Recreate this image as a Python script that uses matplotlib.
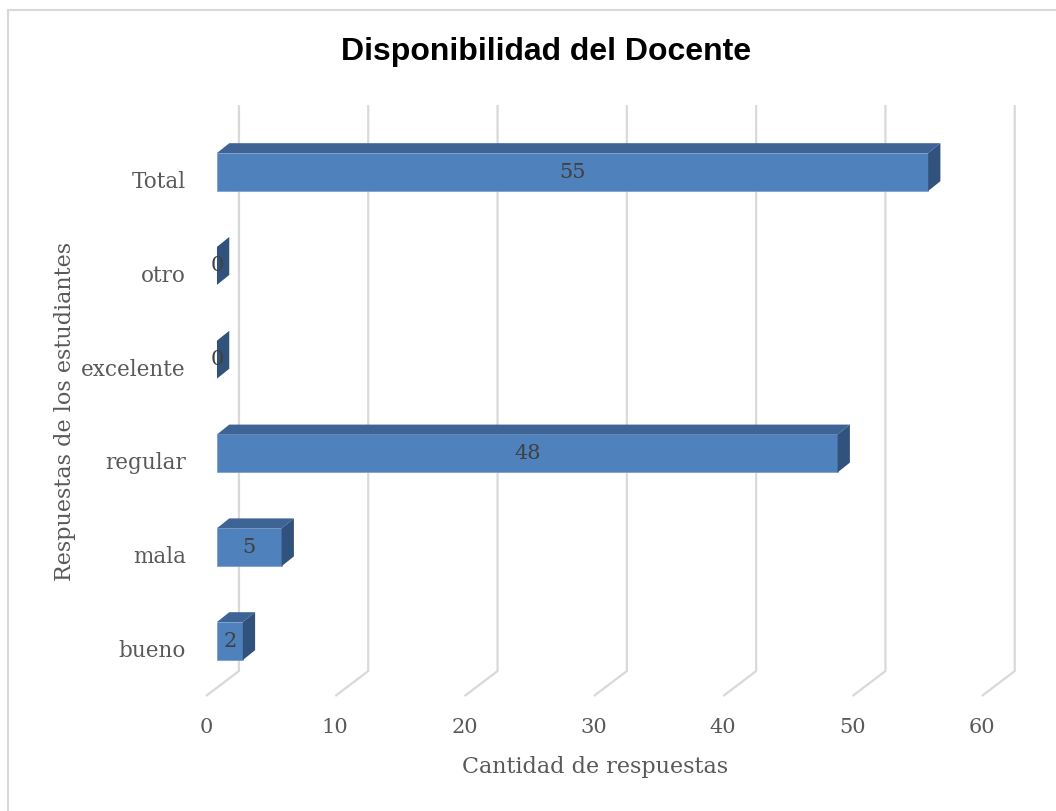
import matplotlib
matplotlib.use("Agg")
import matplotlib.pyplot as plt
from matplotlib.patches import Polygon, Rectangle

# datos
categorias = ['bueno', 'mala', 'regular', 'excelente', 'otro', 'Total']
valores = [2, 5, 48, 0, 0, 55]
xticks = [0, 10, 20, 30, 40, 50, 60]

titulo = "Disponibilidad del Docente"
xlabel = "Cantidad de respuestas"
ylabel = "Respuestas de los estudiantes"

# colores estilo Excel
c_frente = '#4F81BD'
c_arriba = '#3E6496'
c_lado = '#32527E'
c_grid = '#D9D9D9'
c_texto = '#595959'

serif = ['DejaVu Serif']

fig = plt.figure(figsize=(10.56, 8.11), dpi=100)
ax = fig.add_axes([0, 0, 1, 1])
ax.set_xlim(-16.78, 64.89)
ax.set_ylim(-1.812, 6.834)
ax.axis('off')

# borde del grafico
fig.patches.append(Rectangle((8 / 1056, -0.2), 1.2, 1.2 - 10 / 811, transform=fig.transFigure,
                             facecolor='none', edgecolor=c_grid, lw=1.5))

# profundidad 3D
dx, dy = 0.95, 0.105
h = 0.405
gx_back, gx_front = 1.70, -0.85
y_top, y_back, y_front = 5.714, -0.32, -0.586

# lineas de cuadricula (pared + piso)
for t in xticks:
    ax.plot([t + gx_back, t + gx_back, t + gx_front], [y_top, y_back, y_front],
            color=c_grid, lw=1.6, zorder=1, solid_capstyle='butt')
    ax.text(t + gx_front, -0.917, str(t), ha='center', va='center',
            fontsize=15, color=c_texto, family=serif)

# barras
for i, (cat, v) in enumerate(zip(categorias, valores)):
    y0, y1 = i - h / 2, i + h / 2
    if v > 0:
        ax.add_patch(Rectangle((0, y0), v, h, facecolor=c_frente,
                               edgecolor='#7FA1CF', lw=0.6, zorder=3))
        ax.add_patch(Polygon([(0, y1), (v, y1), (v + dx, y1 + dy), (dx, y1 + dy)],
                             closed=True, facecolor=c_arriba, edgecolor='none', zorder=3))
    ax.add_patch(Polygon([(v, y0), (v, y1), (v + dx, y1 + dy), (v + dx, y0 + dy)],
                         closed=True, facecolor=c_lado, edgecolor='none', zorder=3))
    ax.text(v / 2, i, str(v), ha='center', va='center', fontsize=15,
            color='#404040', family=serif, zorder=4)
    ax.text(-2.4, i - 0.107, cat, ha='right', va='center', fontsize=15.5,
            color=c_texto, family=serif)

fig.text(546 / 1056, 1 - 52 / 811, titulo, ha='center', va='center',
         fontsize=23, fontweight='bold', family='Liberation Sans', color='black')
fig.text(595 / 1056, 1 - 767 / 811, xlabel, ha='center', va='center',
         fontsize=16, color=c_texto, family=serif)
fig.text(65 / 1056, 1 - 411 / 811, ylabel, ha='center', va='center', rotation=90,
         fontsize=16, color=c_texto, family=serif)

fig.savefig('out.png', dpi=100)
